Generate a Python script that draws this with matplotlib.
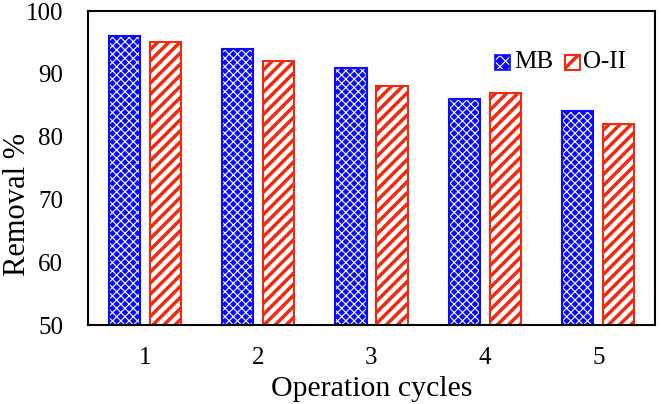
import numpy as np
import matplotlib.pyplot as plt
from matplotlib.patches import Rectangle

plt.rcParams['font.family'] = ['Liberation Serif', 'DejaVu Serif']

cycles = ["1", "2", "3", "4", "5"]
mb = [96, 94, 91, 86, 84]
o2 = [95, 92, 88, 87, 82]

BLUE = "#0a0aff"
RED = "#ee2a10"

x = np.arange(len(cycles))
w = 0.275
off = 0.18

fig = plt.figure(figsize=(6.61, 4.04), dpi=100)
ax = fig.add_axes([88/661, 1 - 325/404, 567/661, 314/404])

# MB: blue fill with white cross hatch, blue outline on top
with plt.rc_context({'hatch.linewidth': 0.8}):
    ax.bar(x - off, mb, w, color=BLUE, edgecolor="white", hatch="xxxx",
           linewidth=0)
ax.bar(x - off, mb, w, fill=False, edgecolor=BLUE, linewidth=1.5)
with plt.rc_context({'hatch.linewidth': 2.5}):
    ax.bar(x + off, o2, w, color="white", edgecolor=RED, hatch="///",
           linewidth=1.5)

ax.set_ylim(50, 100)
ax.set_xlim(-0.5, 4.5)
ax.set_xticks(x)
ax.set_xticklabels(cycles)
ax.set_yticks(range(50, 101, 10))
ax.tick_params(axis="both", labelsize=18, length=0)
ax.tick_params(axis="x", pad=16)
ax.tick_params(axis="y", pad=18)
for s in ax.spines.values():
    s.set_linewidth(1.5)

ax.set_xlabel("Operation cycles", fontsize=21.5, labelpad=5)
ax.set_ylabel("Removal %", fontsize=22)
ax.yaxis.set_label_coords(-0.099, 0.385)

# legend drawn by hand so each hatch keeps its own line width
with plt.rc_context({'hatch.linewidth': 0.8}):
    ax.add_patch(Rectangle((0.718, 0.812), 0.0265, 0.048, transform=ax.transAxes,
                           facecolor=BLUE, edgecolor="white", hatch="xxx",
                           linewidth=0, clip_on=False))
ax.add_patch(Rectangle((0.718, 0.812), 0.0265, 0.048, transform=ax.transAxes,
                       fill=False, edgecolor=BLUE, linewidth=1.2, clip_on=False))
with plt.rc_context({'hatch.linewidth': 2.5}):
    ax.add_patch(Rectangle((0.841, 0.812), 0.0265, 0.048, transform=ax.transAxes,
                           facecolor="white", edgecolor=RED, hatch="//",
                           linewidth=1.5, clip_on=False))
ax.text(0.751, 0.836, "MB", transform=ax.transAxes, fontsize=18,
        va="center", ha="left")
ax.text(0.873, 0.836, "O-II", transform=ax.transAxes, fontsize=18,
        va="center", ha="left")

fig.savefig("out.png", dpi=100)
